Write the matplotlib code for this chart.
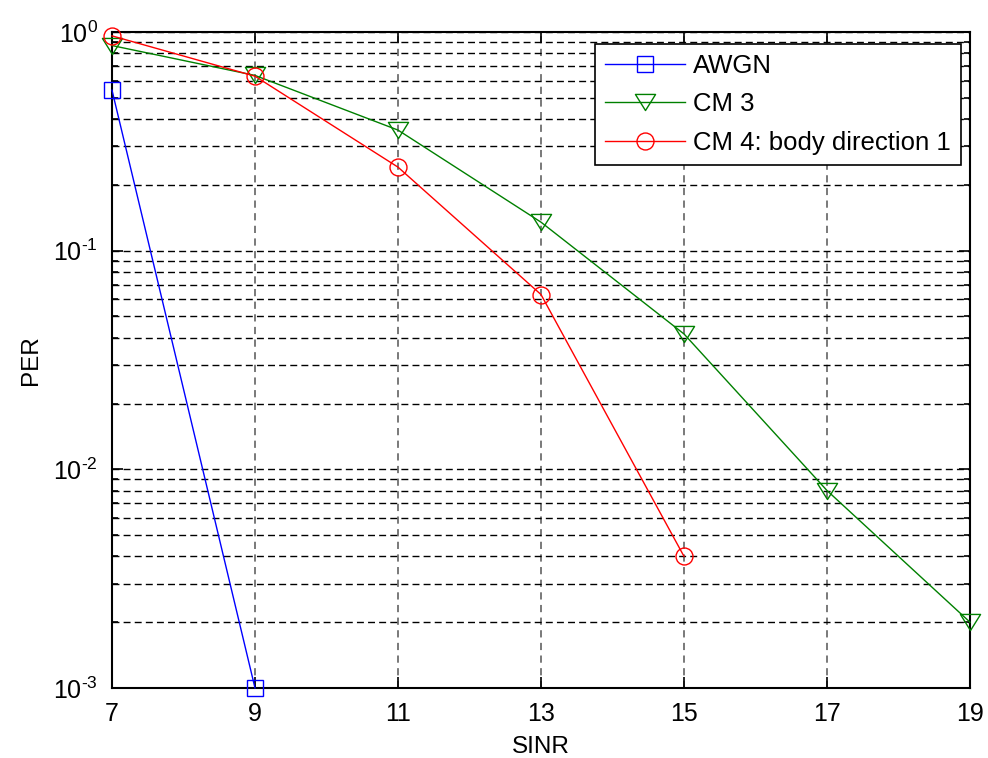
import math
import matplotlib
matplotlib.use("Agg")
import matplotlib.pyplot as plt
from matplotlib.path import Path
from matplotlib.ticker import FixedLocator, LogLocator, NullFormatter, FuncFormatter

plt.rcParams['font.family'] = ['Liberation Sans', 'DejaVu Sans']
plt.rcParams['mathtext.fontset'] = 'custom'
plt.rcParams['mathtext.rm'] = 'Liberation Sans'
plt.rcParams['mathtext.it'] = 'Liberation Sans:italic'
plt.rcParams['mathtext.bf'] = 'Liberation Sans:bold'

# SINR (dB) grid and packet error rates per channel model
sinr_awgn = [7, 9]
per_awgn = [0.542, 0.001]

sinr_cm3 = [7, 9, 11, 13, 15, 17, 19]
per_cm3 = [0.867, 0.633, 0.356, 0.135, 0.0416, 0.008, 0.002]

sinr_cm4 = [7, 9, 11, 13, 15]
per_cm4 = [0.96, 0.628, 0.241, 0.063, 0.004]

x_ticks = [7, 9, 11, 13, 15, 17, 19]
labels = ['AWGN', 'CM 3', 'CM 4: body direction 1']

# wide downward triangle
tri_down = Path([(-1.0, 0.8), (1.0, 0.8), (0.0, -0.8), (-1.0, 0.8)],
                [Path.MOVETO, Path.LINETO, Path.LINETO, Path.CLOSEPOLY])

fig = plt.figure(figsize=(9.88, 7.58), dpi=100)
W, H = 988, 758
ax = fig.add_axes([112 / W, 1 - 688 / H, (970 - 112) / W, (688 - 32) / H])

common = dict(lw=1.0, markerfacecolor='none', markeredgewidth=1.0,
              clip_on=False, zorder=3)
ax.semilogy(sinr_awgn, per_awgn, color='#0000ff', marker='s',
            markersize=11.5, markeredgecolor='#0000ff', label=labels[0], **common)
ax.semilogy(sinr_cm3, per_cm3, color='#008000', marker=tri_down,
            markersize=14.5, markeredgecolor='#008000', label=labels[1], **common)
ax.semilogy(sinr_cm4, per_cm4, color='#ff0000', marker='o',
            markersize=12.2, markeredgecolor='#ff0000', label=labels[2], **common)

ax.set_xlim(7, 19)
ax.set_ylim(1e-3, 1)
ax.xaxis.set_major_locator(FixedLocator(x_ticks))
ax.yaxis.set_major_locator(LogLocator(base=10, numticks=10))
ax.yaxis.set_minor_locator(LogLocator(base=10, subs=range(2, 10), numticks=20))
ax.yaxis.set_minor_formatter(NullFormatter())


def decade_label(v, pos):
    e = int(round(math.log10(v)))
    exp = ('\u2010%d' % -e) if e < 0 else '%d' % e
    return r'$\mathregular{10^{%s}}$' % exp


ax.yaxis.set_major_formatter(FuncFormatter(decade_label))

ax.tick_params(which='both', direction='in', top=True, right=True,
               labelsize=18, width=1.2)
ax.tick_params(which='major', length=8)
ax.tick_params(axis='x', which='major', pad=10)
ax.tick_params(axis='y', which='major', pad=10)
ax.tick_params(which='minor', length=4)

ax.grid(True, which='both', axis='y', color='black', linestyle=(0, (5, 3)),
        linewidth=1.0)
ax.grid(True, which='major', axis='x', color='#6e6e6e', linestyle=(0, (4, 3)),
        linewidth=1.3)
ax.set_axisbelow(True)

for s in ax.spines.values():
    s.set_linewidth(1.5)

ax.set_xlabel('SINR', fontsize=17.5, labelpad=7)
ax.set_ylabel('PER', fontsize=17.5, labelpad=8)

leg = ax.legend(loc='upper right', bbox_to_anchor=(961 / W, 1 - 44 / H),
                bbox_transform=fig.transFigure, fontsize=18.5, numpoints=1,
                handlelength=3.1, handletextpad=0.32, borderpad=0.4,
                labelspacing=0.55, fancybox=False, framealpha=1,
                edgecolor='black', borderaxespad=0)
leg.get_frame().set_linewidth(1.2)

fig.savefig('out.png', dpi=100)
